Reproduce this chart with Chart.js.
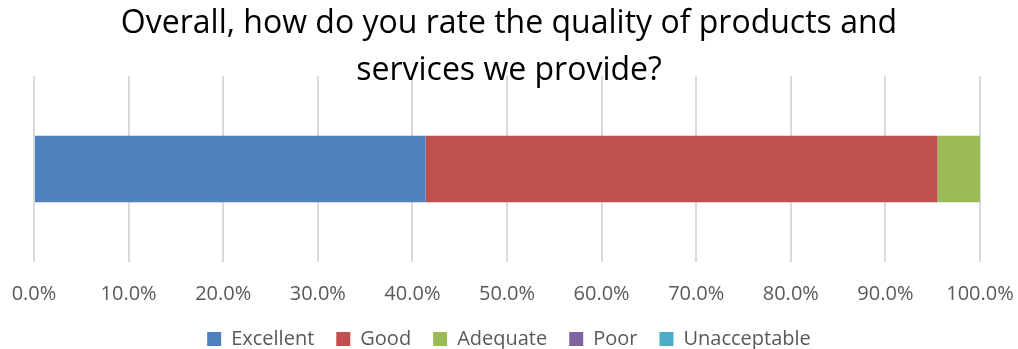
<!DOCTYPE html>
<html>
<head>
<meta charset="utf-8">
<script src="https://cdn.jsdelivr.net/npm/chart.js@4/dist/chart.umd.min.js"></script>
<style>
  html, body { margin: 0; padding: 0; background: #fff; }
  #wrap { width: 1018px; height: 349px; }
</style>
</head>
<body>
<div id="wrap"><canvas id="chart"></canvas></div>
<script>
// survey answers, share of respondents in percent
const categories = [""];
const ratings = ["Excellent", "Good", "Adequate", "Poor", "Unacceptable"];
const excellent = [41.4];
const good = [54.1];
const adequate = [4.5];
const poor = [0];
const unacceptable = [0];
const tickValues = [0, 10, 20, 30, 40, 50, 60, 70, 80, 90, 100];

const colors = ["#4F81BD", "#C0504D", "#9BBB59", "#8064A2", "#4BACC6"];
const series = [excellent, good, adequate, poor, unacceptable];

const font = "'Open Sans', sans-serif";

const ctx = document.getElementById("chart");
new Chart(ctx, {
  type: "bar",
  data: {
    labels: categories,
    datasets: ratings.map((name, i) => ({
      label: name,
      data: series[i],
      backgroundColor: colors[i],
      borderWidth: 0,
      barPercentage: 1,
      categoryPercentage: 0.357,
    })),
  },
  options: {
    indexAxis: "y",
    responsive: true,
    maintainAspectRatio: false,
    animation: false,
    layout: { padding: { left: 0, right: 0, top: 0, bottom: -10 } },
    scales: {
      x: {
        stacked: true,
        min: 0,
        max: 100,
        afterBuildTicks: (axis) => {
          axis.ticks = tickValues.map((v) => ({ value: v }));
        },
        // let the legend sit closer to the tick labels and fix the side margins
        afterFit: (axis) => {
          axis.height -= 19;
          axis.paddingLeft = 34;
          axis.paddingRight = 38;
        },
        grid: { color: "#d9d9d9", lineWidth: 2, drawTicks: false },
        border: { display: false },
        ticks: {
          padding: 20,
          color: "#595959",
          maxRotation: 0,
          font: { family: font, size: 20 },
          callback: (v) => v.toFixed(1) + "%",
        },
      },
      y: {
        stacked: true,
        display: false,
      },
    },
    plugins: {
      title: {
        display: true,
        text: ["Overall, how do you rate the quality of products and", "services we provide?"],
        color: "#000",
        font: { family: font, size: 32, weight: "normal", lineHeight: 1.47 },
        padding: { top: 0, bottom: -18 },
      },
      legend: {
        position: "bottom",
        labels: {
          boxWidth: 14,
          boxHeight: 14,
          padding: 22,
          color: "#595959",
          font: { family: font, size: 20 },
        },
      },
      tooltip: { enabled: false },
    },
  },
});
</script>
</body>
</html>
